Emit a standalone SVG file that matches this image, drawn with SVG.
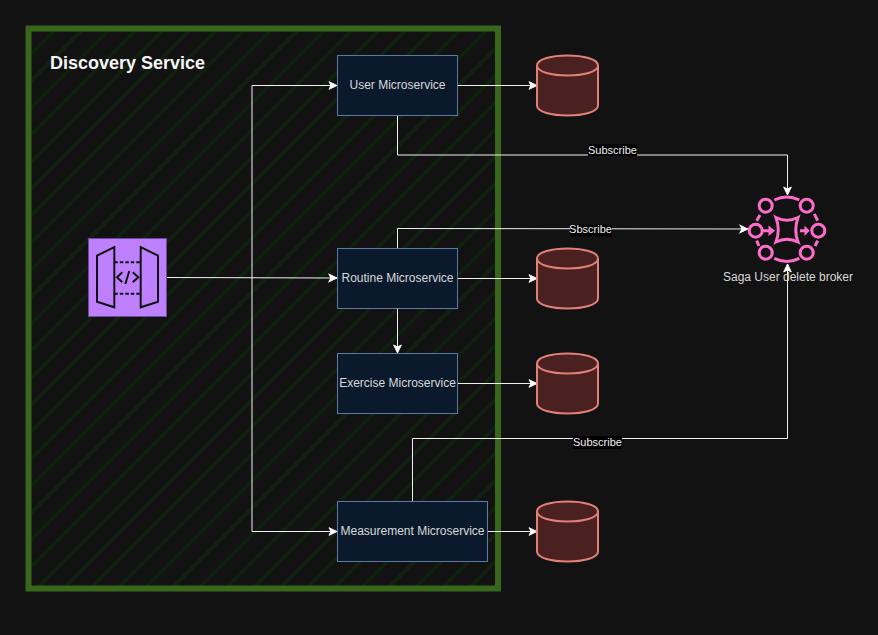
<svg xmlns="http://www.w3.org/2000/svg" width="878" height="635" viewBox="0 0 878 635">
<style>
text{font-family:"Liberation Sans",Arial,sans-serif}
.t{font-size:12px;fill:#d9d9d9;text-anchor:middle}
.l{font-size:11px;fill:#f0f0f0;text-anchor:middle}
.n{fill:#0a1a2c;stroke:#5a7aa6;stroke-width:1}
.e{fill:none;stroke:#f0f0f0;stroke-width:1}
.c{fill:#4a2020;stroke:#e2807a;stroke-width:2}
.p{fill:none;stroke:#ff6ccb;stroke-width:3}
</style>
<defs>
<pattern id="h" width="27" height="27" patternUnits="userSpaceOnUse"><path d="M-2 6L6 -2M-2 33L33 -2" stroke="#11210f" stroke-width="3.500" fill="none"/></pattern>
<marker id="a" markerUnits="userSpaceOnUse" markerWidth="10" markerHeight="10" refX="9" refY="5" orient="auto"><path d="M1 1.200L9 5L1 8.800L3 5Z" fill="#fff" stroke="#fff" stroke-width="1"/></marker>
<g id="cy"><path d="M0 10C0 -3.300 61 -3.300 61 10V50C61 63.300 0 63.300 0 50Z"/><path d="M0 10C0 23.300 61 23.300 61 10" fill="none"/></g>
</defs>
<rect width="878" height="635" fill="#121212"/>
<g id="discovery-service"><rect x="28.500" y="28.500" width="469.500" height="560" fill="url(#h)" stroke="#38671c" stroke-width="6"/><text x="50" y="69" font-size="18" font-weight="700" fill="#f5f5f5">Discovery Service</text></g>
<g id="connectors">
<path class="e" marker-end="url(#a)" d="M166.500 277.500L337 278"/>
<path class="e" marker-end="url(#a)" d="M252 277.500V85.500H337"/>
<path class="e" marker-end="url(#a)" d="M252 277.500V531.500H337"/>
<path class="e" marker-end="url(#a)" d="M457.500 85.500H537"/>
<path class="e" marker-end="url(#a)" d="M457.500 278.500H537"/>
<path class="e" marker-end="url(#a)" d="M457.500 383.500H537"/>
<path class="e" marker-end="url(#a)" d="M487.500 531.500H537"/>
<path class="e" marker-end="url(#a)" d="M397.500 308.500V353"/>
<path class="e" marker-end="url(#a)" d="M397.500 115.500V155H787.500V195"/>
<path class="e" marker-end="url(#a)" d="M397.500 248.500V228.500L748 229"/>
<path class="e" marker-end="url(#a)" d="M412.500 501.500V438.500H787.500V264"/>
</g>
<g id="labels">
<rect x="588" y="144" width="49" height="12" fill="#000"/><text class="l" x="612.500" y="154">Subscribe</text>
<rect x="570" y="224.500" width="42" height="12" fill="#000"/><text class="l" x="590.500" y="233">Sbscribe</text>
<rect x="573" y="436" width="49" height="13" fill="#000"/><text class="l" x="597.500" y="446">Subscribe</text>
</g>
<g id="api-gateway"><rect x="88.500" y="238.500" width="78" height="78" fill="#bf80ff" stroke="#6a4a99"/>
<g fill="none" stroke="#111" stroke-width="2"><path d="M114.300 247V307.300L97 301.700V255.700ZM140.700 247V307.300L158 301.700V255.700Z"/><path stroke-dasharray="3.500 2" d="M114.300 262.300H140.700M114.300 293.700H140.700"/><path d="M122.300 272.300L117 277.300L122.300 282.300M132.700 272.300L138.300 277.300L132.700 282.300M129.300 271L125.300 284"/></g></g>
<g id="user-microservice"><rect class="n" x="337.500" y="55.500" width="120" height="60"/><text class="t" x="397.500" y="89">User Microservice</text></g>
<g id="routine-microservice"><rect class="n" x="337.500" y="248.500" width="120" height="60"/><text class="t" x="397.500" y="282">Routine Microservice</text></g>
<g id="exercise-microservice"><rect class="n" x="337.500" y="353.500" width="120" height="60"/><text class="t" x="397.500" y="387">Exercise Microservice</text></g>
<g id="measurement-microservice"><rect class="n" x="337.500" y="501.500" width="150" height="60"/><text class="t" x="412.500" y="535">Measurement Microservice</text></g>
<g id="db-user"><use href="#cy" class="c" x="537" y="55.500"/></g>
<g id="db-routine"><use href="#cy" class="c" x="537" y="248.500"/></g>
<g id="db-exercise"><use href="#cy" class="c" x="537" y="353.500"/></g>
<g id="db-measurement"><use href="#cy" class="c" x="537" y="501.500"/></g>
<g id="saga-broker"><g class="p">
<circle cx="765.700" cy="205.700" r="6.500"/><circle cx="806.700" cy="205.700" r="6.500"/><circle cx="755.700" cy="230.700" r="6.500"/><circle cx="818.300" cy="230.700" r="6.500"/><circle cx="765.700" cy="252.700" r="6.500"/><circle cx="806.700" cy="252.700" r="6.500"/>
<path d="M774.300 200Q787 194 799.300 200M774.300 258.300Q787 264.500 799.300 258.300M760 215L756.700 220.700M814.300 213.800L817.700 220.700M756.700 240.700L759 246M817.700 240.700L815 246"/>
<path d="M776 217.500Q787 223 798 217.500Q793.500 230 798 242Q787 236.500 776 242Q780.500 230 776 217.500Z"/>
<path d="M762 230.700H771M800 230.700H806"/></g>
<path fill="#ff6ccb" d="M768.500 225.500L775 230.700L768.500 236ZM804.500 225.500L809.700 230.700L804.500 236Z"/>
<text class="t" x="788" y="281">Saga User delete broker</text></g>
</svg>
